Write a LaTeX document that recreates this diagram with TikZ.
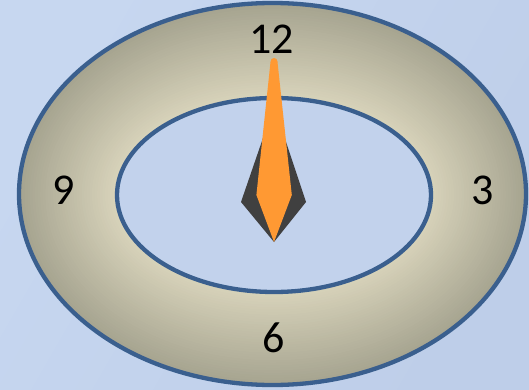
\documentclass[tikz,border=0pt]{standalone}
\usepackage{fontspec}
\setmainfont{Carlito}
\definecolor{bgA}{HTML}{C7D7F0}
\definecolor{bgB}{HTML}{BECEE9}
\definecolor{ringlight}{HTML}{DCD7BE}
\definecolor{ringdark}{HTML}{A6A490}
\definecolor{rimblue}{HTML}{3A5F8E}
\definecolor{handdark}{HTML}{404040}
\definecolor{handorange}{HTML}{FF9933}
\definecolor{innerblue}{HTML}{C2D2EC}
\tikzset{
  rim/.style={draw=rimblue, line width=4.3pt},
  numlabel/.style={font=\fontsize{44}{44}\selectfont, text=black, inner sep=0pt}
}
\begin{document}
\begin{tikzpicture}[x=1pt, y=-1pt]
\useasboundingbox (0,0) rectangle (529,390);
\shade[left color=bgA, right color=bgB, shading angle=60] (0,0) rectangle (529,390);
% outer ring, shaded in steps
\foreach \i in {0,...,40}{
  \pgfmathsetmacro{\p}{100*\i/40}
  \pgfmathsetmacro{\rx}{253.5-\i*(253.5-150)/40}
  \pgfmathsetmacro{\ry}{191-\i*(191-90)/40}
  \fill[ringlight!\p!ringdark] (273,194.5) ellipse [x radius=\rx, y radius=\ry];
}
\draw[rim] (272.5,194) ellipse [x radius=253.5, y radius=191];
% inner face
\path[rim, fill=innerblue] (274,195) ellipse [x radius=157, y radius=97];
% hand
\fill[handdark] (274,106) -- (241,202) -- (274,242) -- (306,202) -- cycle;
\fill[handorange] (270.5,62) -- (256.4,195) -- (274,242) -- (291.8,195) -- (277.5,62) -- cycle;
\fill[handorange] (274,61.5) circle (3.5);
% labels
\node[numlabel] (n12) at (271.6,39) {12};
\node[numlabel] (n9) at (63.4,190) {9};
\node[numlabel] (n3) at (483,190) {3};
\node[numlabel] (n6) at (274,338) {6};
\end{tikzpicture}
\end{document}
